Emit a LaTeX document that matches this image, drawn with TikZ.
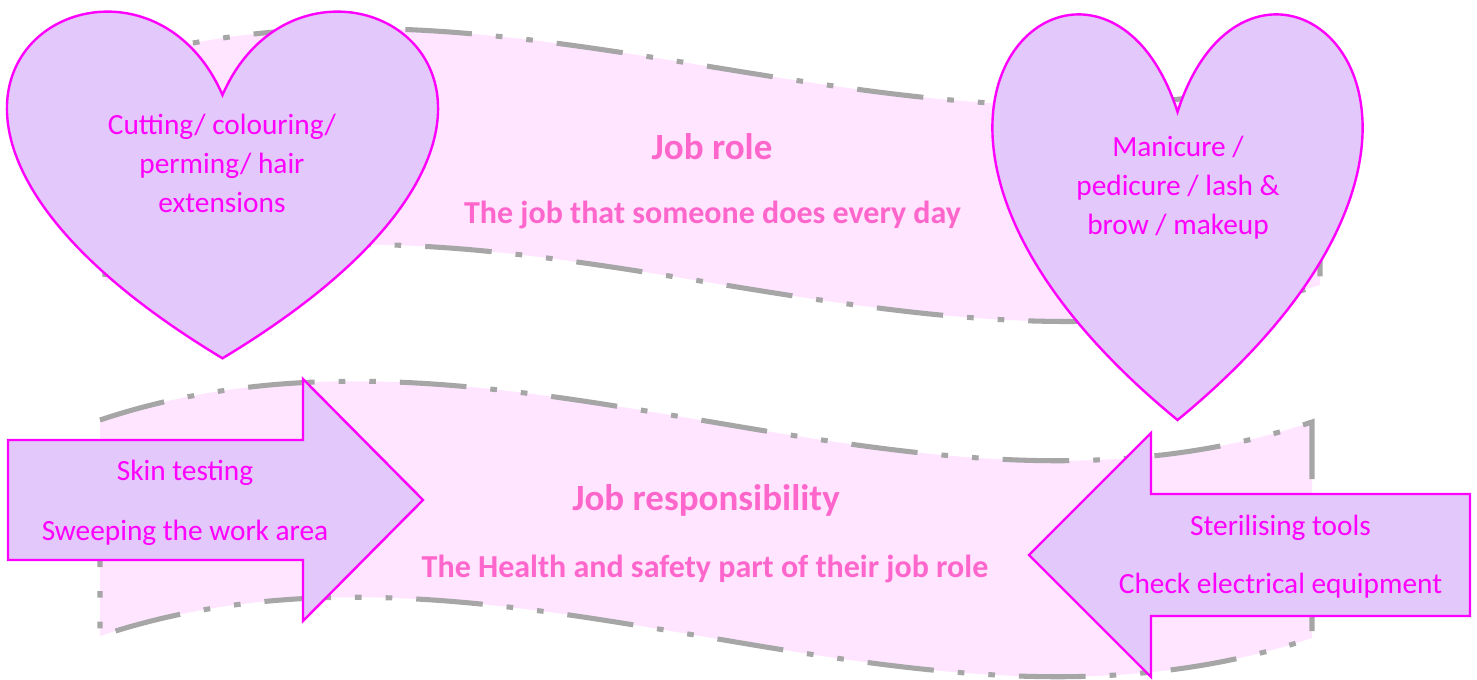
\documentclass[tikz,border=0pt]{standalone}
\usepackage{fontspec}
\setmainfont{Carlito}
\usepackage{tikz}

\definecolor{heartfill}{RGB}{226,200,251}
\definecolor{edgepink}{RGB}{255,0,255}
\definecolor{wavefill}{RGB}{255,229,255}
\definecolor{wavegrey}{RGB}{166,166,166}
\definecolor{titlepink}{RGB}{255,102,204}

\begin{document}
\begin{tikzpicture}[x=0.75pt,y=0.75pt,yscale=-1,xscale=1,
  wave/.style={draw=wavegrey, fill=wavefill, line width=3.8pt,
    dash pattern=on 50pt off 18pt on 5pt off 18pt on 5pt off 18pt},
  heartshape/.style={draw=edgepink, fill=heartfill, line width=1.8pt},
  arrowshape/.style={draw=edgepink, fill=heartfill, line width=1.8pt},
  shapetext/.style={inner sep=0.75pt, font=\fontsize{22}{29.25}\selectfont, text=edgepink, align=center},
  headtext/.style={inner sep=0.75pt, font=\bfseries\fontsize{27.75}{33}\selectfont, text=titlepink},
  subtext/.style={inner sep=0.75pt, font=\bfseries\fontsize{24}{29}\selectfont, text=titlepink}]
\useasboundingbox (0,0) rectangle (1477,680);

%Shape: Wave [top]
\draw [wave] (105,65) .. controls (510,-63) and (915,197) .. (1320,69) -- (1320,285) .. controls (915,413) and (510,153) .. (105,281) -- cycle ;
%Shape: Wave [bottom]
\draw [wave] (100,420) .. controls (504,285) and (908,557) .. (1312,422) -- (1312,638) .. controls (908,773) and (504,501) .. (100,636) -- cycle ;

%Shape: Heart [left]
\draw [heartshape] (222.5,95) .. controls (311.7,-109.7) and (659.4,95) .. (222.5,358.3) .. controls (-214.4,95) and (133.3,-109.7) .. cycle ;
%Shape: Heart [right]
\draw [heartshape] (1177.5,112) .. controls (1254.1,-127.6) and (1552.7,112) .. (1177.5,420) .. controls (802.3,112) and (1100.9,-127.6) .. cycle ;

%Right Arrow
\draw [arrowshape] (8,440) -- (303,440) -- (303,379) -- (423,500) -- (303,621) -- (303,560) -- (8,560) -- cycle ;
%Left Arrow
\draw [arrowshape] (1470,494) -- (1151,494) -- (1151,433) -- (1029,555) -- (1151,677) -- (1151,616) -- (1470,616) -- cycle ;

% Text Node
\node [shapetext] (hairtxt) at (222,163.5) {Cutting/ colouring/\\perming/ hair\\extensions};
% Text Node
\node [shapetext] (nailtxt) at (1178,187.5) {Manicure /\\pedicure / lash \&\\brow / makeup};
% Text Node
\node [headtext, anchor=base] (roletitle) at (712,160) {Job role};
\node [subtext, anchor=base] (rolesub) at (712.5,224) {The job that someone does every day};
% Text Node
\node [headtext, anchor=base] (resptitle) at (706,510) {Job responsibility};
\node [subtext, anchor=base] (respsub) at (705,577) {The Health and safety part of their job role};
% Text Node
\node [shapetext] (skintxt) at (185,502.5) {Skin testing\\[15.75pt]Sweeping the work area};
% Text Node
\node [shapetext] (tooltxt) at (1280.5,556.5) {Sterilising tools\\[14.25pt]Check electrical equipment};

\end{tikzpicture}
\end{document}
